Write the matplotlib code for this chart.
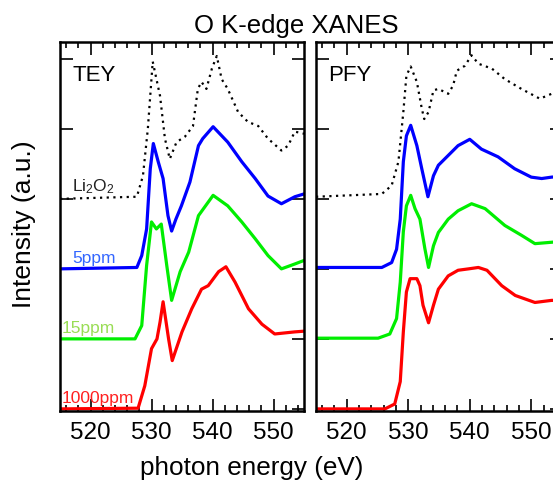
import matplotlib
matplotlib.use("Agg")
import matplotlib.pyplot as plt

plt.rcParams['font.family'] = ['Liberation Sans', 'DejaVu Sans']
plt.rcParams['mathtext.default'] = 'regular'

# TEY curves (energy eV, offset intensity)
tey_li2o2_x = [515, 527.6, 528.6, 529.4, 530.2, 531.4, 532.2, 533.0, 534.1, 535.5, 536.8, 537.6, 538.2,
               539.0, 539.9, 540.7, 541.5, 542.5, 544.2, 545.8, 547.5, 549.1, 551.3, 552.4, 553.5, 555]
tey_li2o2_y = [3.0, 3.03, 3.33, 4.0, 4.96, 4.47, 3.86, 3.57, 3.81, 3.89, 4.04, 4.57, 4.67,
               4.57, 4.86, 5.04, 4.71, 4.57, 4.24, 4.1, 4.04, 3.86, 3.69, 3.76, 3.96, 3.93]

tey_5_x = [515, 527.6, 528.4, 529.2, 529.8, 530.3, 531.1, 531.9, 532.7, 533.3, 534.0, 534.9, 536.3,
           537.7, 538.4, 540.1, 542.5, 544.8, 547.0, 549.1, 551.3, 553.5, 555]
tey_5_y = [2.0, 2.02, 2.19, 2.57, 3.43, 3.79, 3.53, 3.29, 2.76, 2.54, 2.71, 2.9, 3.24,
           3.76, 3.86, 4.03, 3.81, 3.53, 3.29, 3.04, 2.93, 3.03, 3.07]

tey_15_x = [515, 527.3, 528.4, 529.2, 530.0, 530.8, 531.6, 532.5, 533.3, 534.7, 536.1, 537.7,
            540.1, 542.5, 544.8, 547.0, 549.1, 551.3, 553.5, 555]
tey_15_y = [1.0, 1.0, 1.19, 2.05, 2.67, 2.57, 2.64, 2.05, 1.55, 1.96, 2.24, 2.76,
            3.05, 2.9, 2.67, 2.43, 2.19, 2.0, 2.07, 2.12]

tey_1000_x = [515, 527.8, 528.9, 530.0, 530.9, 531.4, 531.9, 532.8, 533.4, 535.0, 536.6, 538.2,
              539.3, 541.0, 542.2, 543.7, 545.9, 548.1, 550.2, 553.5, 555]
tey_1000_y = [0.0, 0.01, 0.33, 0.86, 1.0, 1.24, 1.53, 1.0, 0.69, 1.1, 1.43, 1.71,
              1.76, 1.96, 2.03, 1.81, 1.43, 1.21, 1.07, 1.1, 1.11]

# PFY curves
pfy_li2o2_x = [515, 525.7, 527.3, 528.4, 529.2, 529.7, 530.4, 531.4, 532.2, 532.6, 533.3, 534.1,
               534.9, 536.5, 537.3, 537.9, 539.2, 540.3, 541.4, 543.6, 545.7, 548.4, 551.4, 553.3, 556]
pfy_li2o2_y = [3.03, 3.07, 3.19, 3.53, 4.24, 4.76, 4.89, 4.67, 4.29, 4.14, 4.24, 4.55,
               4.57, 4.5, 4.62, 4.83, 4.9, 5.05, 4.93, 4.86, 4.71, 4.57, 4.43, 4.5, 4.55]

pfy_5_x = [515, 525.7, 527.3, 528.1, 528.7, 529.2, 529.7, 530.4, 531.4, 532.2, 533.2, 534.1,
           534.9, 536.5, 538.1, 540.0, 541.9, 544.6, 547.3, 550.0, 551.7, 553.3, 556]
pfy_5_y = [2.02, 2.02, 2.09, 2.28, 2.71, 3.53, 3.9, 4.05, 3.76, 3.43, 3.03, 3.33,
           3.48, 3.62, 3.76, 3.85, 3.71, 3.6, 3.43, 3.31, 3.29, 3.31, 3.33]

pfy_15_x = [515, 525.1, 527.0, 528.1, 528.7, 529.2, 529.7, 530.4, 531.1, 531.9, 532.7, 533.3,
            534.1, 534.9, 536.5, 538.1, 540.3, 542.5, 545.7, 548.4, 550.6, 553.3, 556]
pfy_15_y = [1.01, 1.01, 1.07, 1.29, 1.81, 2.53, 2.9, 3.05, 2.86, 2.71, 2.29, 2.02,
            2.33, 2.52, 2.71, 2.83, 2.93, 2.86, 2.62, 2.48, 2.36, 2.38, 2.4]

pfy_1000_x = [515, 526.2, 527.8, 528.7, 529.2, 529.7, 530.3, 531.4, 531.9, 532.4, 533.3, 534.1,
              534.9, 536.5, 538.1, 539.8, 541.4, 542.8, 545.2, 547.4, 550.6, 553.3, 556]
pfy_1000_y = [0.0, 0.0, 0.07, 0.39, 1.1, 1.67, 1.86, 1.86, 1.76, 1.48, 1.23, 1.48,
              1.71, 1.9, 1.98, 2.0, 2.02, 1.98, 1.76, 1.62, 1.52, 1.55, 1.55]

sample_labels = ['Li$_2$O$_2$', '5ppm', '15ppm', '1000ppm']
label_colors = ['#222222', '#3366ff', '#99dd55', '#ff2020']
offsets = [3, 2, 1, 0]

W, H = 553, 481
fig = plt.figure(figsize=(W / 100, H / 100), dpi=100)
ax1 = fig.add_axes([60 / W, 1 - 412 / H, 244 / W, 369 / H])
ax2 = fig.add_axes([316 / W, 1 - 412 / H, 246 / W, 369 / H])

for ax, data, name in [
    (ax1, [(tey_li2o2_x, tey_li2o2_y), (tey_5_x, tey_5_y), (tey_15_x, tey_15_y), (tey_1000_x, tey_1000_y)], 'TEY'),
    (ax2, [(pfy_li2o2_x, pfy_li2o2_y), (pfy_5_x, pfy_5_y), (pfy_15_x, pfy_15_y), (pfy_1000_x, pfy_1000_y)], 'PFY'),
]:
    ax.plot(data[0][0], data[0][1], color='black', lw=1.6, linestyle=(0, (1, 2)))
    ax.plot(data[1][0], data[1][1], color='#0000ff', lw=2.3, solid_joinstyle='round')
    ax.plot(data[2][0], data[2][1], color='#00ee00', lw=2.3, solid_joinstyle='round')
    ax.plot(data[3][0], data[3][1], color='#ff0000', lw=2.3, solid_joinstyle='round')
    ax.set_xlim(515, 555)
    ax.set_ylim(-0.03, 5.24)
    ax.set_xticks([520, 530, 540, 550])
    ax.set_xticks(range(516, 556, 2), minor=True)
    ax.set_yticks([0, 1, 2, 3, 4, 5])
    ax.set_yticklabels([])
    ax.tick_params(which='both', direction='in', top=True, right=True, width=1.2)
    ax.tick_params(which='major', length=9, labelsize=17.5, pad=7)
    ax.tick_params(which='minor', length=4.5)
    ax.tick_params(axis='y', which='minor', left=False, right=False)
    for s in ax.spines.values():
        s.set_linewidth(1.8)
    ax.text(517, 4.78, name, fontsize=16, ha='left', va='center')

for lab, col, off in zip(sample_labels, label_colors, offsets):
    ax1.text(515.3 if off < 2 else 517, off + 0.06, lab, color=col, fontsize=12.5, ha='left', va='bottom')

fig.text(296 / W, 1 - 26 / H, 'O K-edge XANES', fontsize=18.5, ha='center', va='center')
fig.text(24 / W, 1 - 224 / H, 'Intensity (a.u.)', fontsize=19, rotation=90, ha='center', va='center')
fig.text(252 / W, 1 - 468 / H, 'photon energy (eV)', fontsize=18.8, ha='center', va='center')

fig.savefig('out.png', dpi=100)
